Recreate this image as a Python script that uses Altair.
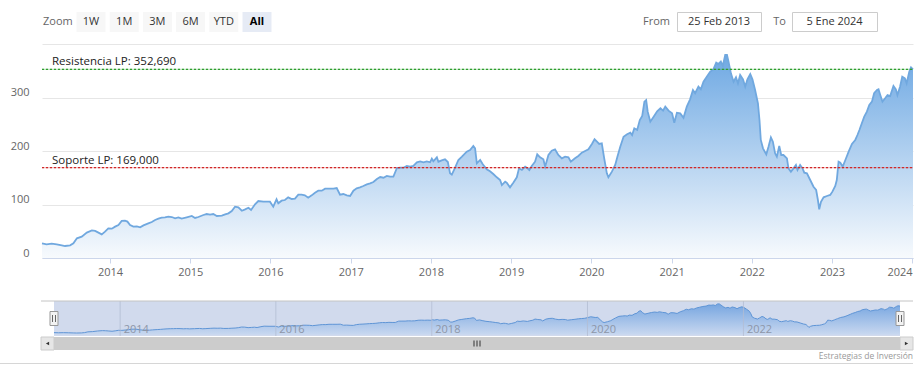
import altair as alt
import pandas as pd

# ---------------- data ----------------
dates = [
    "2013-02-25", "2013-03-18", "2013-04-10", "2013-05-03", "2013-05-26", "2013-06-10", "2013-07-03", "2013-07-18",
    "2013-08-03", "2013-08-25", "2013-09-17", "2013-10-10", "2013-10-25", "2013-11-09", "2013-11-24", "2013-12-09", "2013-12-24",
    "2014-01-09", "2014-01-24", "2014-02-08", "2014-02-23", "2014-03-10", "2014-03-21", "2014-04-02", "2014-04-17",
    "2014-05-03", "2014-05-18", "2014-06-02", "2014-06-24", "2014-07-10", "2014-07-25", "2014-08-09", "2014-08-24",
    "2014-09-08", "2014-09-23", "2014-10-09", "2014-10-24", "2014-11-08", "2014-11-23", "2014-12-16",
    "2015-01-08", "2015-01-23", "2015-02-07", "2015-03-02", "2015-03-17", "2015-04-01", "2015-04-16", "2015-05-02",
    "2015-05-25", "2015-06-09", "2015-06-24", "2015-07-09", "2015-07-24", "2015-08-08", "2015-08-24", "2015-09-08",
    "2015-09-23", "2015-10-05", "2015-10-23", "2015-11-07", "2015-11-30", "2015-12-30",
    "2016-01-14", "2016-01-29", "2016-02-06", "2016-02-21", "2016-03-07", "2016-03-22", "2016-04-07", "2016-04-22",
    "2016-05-07", "2016-05-22", "2016-06-06", "2016-06-21", "2016-07-07", "2016-07-22", "2016-08-06", "2016-08-22",
    "2016-09-06", "2016-09-21", "2016-10-14", "2016-10-29", "2016-11-13", "2016-11-28", "2016-12-14", "2016-12-29",
    "2017-01-13", "2017-01-28", "2017-02-12", "2017-02-27", "2017-03-15", "2017-03-30", "2017-04-14", "2017-04-30",
    "2017-05-15", "2017-05-30", "2017-06-14", "2017-06-29", "2017-07-14", "2017-07-30", "2017-08-14", "2017-08-29",
    "2017-09-13", "2017-09-28", "2017-10-13", "2017-10-29", "2017-11-13", "2017-11-28", "2017-12-13", "2017-12-28",
    "2018-01-05", "2018-01-12", "2018-01-28", "2018-02-04", "2018-02-19", "2018-03-06", "2018-03-19", "2018-03-29",
    "2018-04-06", "2018-04-21", "2018-05-06", "2018-05-22", "2018-06-13", "2018-06-28", "2018-07-13", "2018-07-21",
    "2018-07-29", "2018-08-13", "2018-08-25", "2018-09-12", "2018-09-27", "2018-10-12", "2018-10-28", "2018-11-12",
    "2018-11-20", "2018-12-05", "2018-12-12", "2018-12-27",
    "2019-01-11", "2019-01-27", "2019-02-06", "2019-02-19", "2019-03-06", "2019-03-13", "2019-03-25", "2019-04-05",
    "2019-04-20", "2019-04-30", "2019-05-13", "2019-05-28", "2019-06-05", "2019-06-20", "2019-07-05", "2019-07-20",
    "2019-08-04", "2019-08-20", "2019-09-04", "2019-09-19", "2019-09-30", "2019-10-19", "2019-11-03", "2019-11-19",
    "2019-12-04", "2019-12-19",
    "2020-01-04", "2020-01-16", "2020-01-27", "2020-02-06", "2020-02-18", "2020-02-29", "2020-03-12", "2020-03-19",
    "2020-04-04", "2020-04-19", "2020-04-29", "2020-05-12", "2020-05-27", "2020-06-12", "2020-06-27", "2020-07-05",
    "2020-07-15", "2020-07-28", "2020-08-09", "2020-08-20", "2020-08-30", "2020-09-07", "2020-09-14", "2020-09-26",
    "2020-10-11", "2020-10-27", "2020-11-11", "2020-11-23", "2020-12-03", "2020-12-18",
    "2021-01-03", "2021-01-13", "2021-01-25", "2021-02-09", "2021-02-24", "2021-03-11", "2021-03-26", "2021-04-08",
    "2021-04-18", "2021-05-03", "2021-05-14", "2021-05-26", "2021-06-10", "2021-06-25", "2021-07-10", "2021-07-23",
    "2021-08-02", "2021-08-13", "2021-08-22", "2021-09-02", "2021-09-10", "2021-09-17", "2021-09-28", "2021-10-10",
    "2021-10-21", "2021-10-30", "2021-11-09", "2021-11-22", "2021-12-02", "2021-12-12", "2021-12-25",
    "2022-01-04", "2022-01-16", "2022-01-29", "2022-02-05", "2022-02-11", "2022-02-21", "2022-03-08", "2022-03-18",
    "2022-03-29", "2022-04-07", "2022-04-17", "2022-04-25", "2022-05-06", "2022-05-15", "2022-05-25", "2022-06-10",
    "2022-06-17", "2022-06-28", "2022-07-10", "2022-07-21", "2022-07-28", "2022-08-09", "2022-08-20", "2022-08-28",
    "2022-09-09", "2022-09-24", "2022-10-09", "2022-10-21", "2022-10-29", "2022-11-04", "2022-11-12", "2022-11-24",
    "2022-12-09", "2022-12-24",
    "2023-01-03", "2023-01-16", "2023-01-23", "2023-01-31", "2023-02-08", "2023-02-19", "2023-03-03", "2023-03-18",
    "2023-04-02", "2023-04-17", "2023-04-27", "2023-05-06", "2023-05-17", "2023-05-28", "2023-06-09", "2023-06-20",
    "2023-07-02", "2023-07-12", "2023-07-25", "2023-08-01", "2023-08-09", "2023-08-19", "2023-08-31", "2023-09-11",
    "2023-09-23", "2023-10-08", "2023-10-19", "2023-10-26", "2023-11-07", "2023-11-17", "2023-11-29", "2023-12-07",
    "2023-12-19", "2023-12-27", "2024-01-05",
]
prices = [
    27.4, 25.6, 26.8, 25.6, 23.7, 22.4, 23.7, 27.4, 36.8, 39.9, 47.4, 51.7, 50.5, 47.4, 44.2, 49.2, 55.4,
    54.8, 58.6, 61.7, 69.2, 69.8, 68.0, 61.7, 58.6, 59.2, 57.3, 61.0, 64.8, 67.3, 71.0, 73.5, 75.4, 76.0, 77.3,
    76.6, 74.2, 76.0, 73.5, 76.0,
    78.5, 74.8, 76.6, 80.4, 82.2, 81.0, 82.2, 78.5, 79.1, 81.6, 83.5, 87.9, 95.9, 94.7, 88.4, 91.0, 94.0, 89.7,
    100.3, 106.5, 105.2, 105.2,
    95.9, 109.7, 102.2, 107.1, 108.4, 113.4, 110.3, 110.9, 118.3, 118.3, 117.1, 112.7, 117.1, 122.1, 125.8, 125.8,
    129.6, 129.6, 129.6, 130.8, 118.3, 119.6, 117.1, 115.9,
    125.8, 130.2, 132.1, 134.6, 137.7, 139.6, 142.0, 147.7, 151.4, 150.1, 153.3, 152.0, 152.0, 168.2, 168.8, 168.8,
    172.0, 170.7, 172.0, 178.9, 180.7, 178.9, 180.7, 178.9,
    185.6, 180.7, 188.2, 180.0, 182.6, 184.4, 179.4, 158.3, 155.7, 168.8, 183.2, 189.3, 198.7, 201.9, 209.3, 205.0,
    177.0, 183.2, 175.1, 165.8, 162.0, 157.0, 150.8, 145.8, 136.4, 142.6, 140.8, 132.1,
    140.8, 150.8, 167.6, 164.5, 170.7, 168.8, 164.5, 172.0, 180.0, 193.8, 188.2, 184.4, 170.7, 192.5, 200.6, 203.1,
    192.5, 186.3, 189.4, 188.2, 180.0, 186.3, 190.7, 196.8, 200.0, 203.1,
    213.1, 221.9, 217.4, 213.1, 214.3, 186.3, 158.3, 150.8, 161.4, 173.8, 189.4, 208.0, 226.7, 231.2, 234.2, 229.9,
    242.4, 239.3, 257.9, 265.4, 292.2, 295.3, 273.5, 254.8, 264.1, 274.2, 279.8, 275.4, 282.9, 275.4,
    270.4, 252.9, 271.6, 270.4, 262.2, 282.9, 296.6, 314.0, 307.9, 320.2, 315.3, 329.5, 338.9, 348.0, 352.7, 365.1,
    362.6, 367.0, 358.9, 379.4, 379.4, 367.0, 345.2, 329.5, 337.7, 326.5, 342.0, 334.0, 320.2, 334.0, 343.9,
    334.0, 314.0, 289.2, 257.9, 220.6, 205.0, 193.8, 208.0, 225.5, 217.4, 195.7, 189.4, 209.3, 192.5, 192.5, 186.3,
    167.6, 161.4, 167.6, 173.8, 164.5, 173.8, 167.6, 159.5, 158.3, 145.8, 133.3, 127.1, 108.4, 91.0, 105.2, 113.4,
    115.9, 117.8,
    124.0, 134.6, 145.8, 180.0, 178.1, 170.7, 183.2, 198.7, 213.1, 220.6, 229.9, 239.3, 251.8, 264.1, 273.5, 286.0,
    292.2, 307.9, 314.0, 315.3, 304.7, 292.2, 298.5, 304.7, 302.8, 321.5, 315.3, 304.7, 320.2, 338.9, 335.9, 326.5,
    348.2, 356.4, 352.7,
]
assert len(dates) == len(prices)

level_values = [352.69, 169.0]
level_labels = ["Resistencia LP: 352,690", "Soporte LP: 169,000"]
y_ticks = [0, 100, 200, 300, 400]
x_years = list(range(2014, 2025))
nav_years = [2014, 2016, 2018, 2020, 2022]
zoom_buttons = ["1W", "1M", "3M", "6M", "YTD", "All"]
selected_button = "All"
zoom_label = "Zoom"
range_labels = ["From", "To"]
range_values = ["25 Feb 2013", "5 Ene 2024"]
credit = "Estrategias de Inversión"

# ---------------- layout / style ----------------
W, H = 871, 214
FONT = "Open Sans"
LEVEL_COLORS = ["#2f9e2f", "#d02828"]
df = pd.DataFrame({"date": pd.to_datetime(dates), "price": prices})
x_dom = [alt.DateTime(year=2013, month=2, date=25), alt.DateTime(year=2024, month=1, date=5)]
main_x = alt.Scale(domain=x_dom)
main_y = alt.Scale(domain=[0, 400], nice=False)
nav_x = alt.Scale(domain=x_dom, range=[12, 858])
nav_y = alt.Scale(domain=[-14, 415], range=[292, 257], nice=False, zero=False)

main_grad = alt.Gradient(
    gradient="linear",
    stops=[alt.GradientStop(color="#6fa9e3", offset=0), alt.GradientStop(color="#f7fafd", offset=1)],
    x1=0, x2=0, y1=0, y2=1,
)
nav_grad = alt.Gradient(
    gradient="linear",
    stops=[alt.GradientStop(color="#77a6e0", offset=0), alt.GradientStop(color="#c9d8f0", offset=1)],
    x1=0, x2=0, y1=0, y2=1,
)

base = alt.Chart(df)

area = base.mark_area(color=main_grad).encode(
    x=alt.X("date:T", scale=main_x, title=None, axis=alt.Axis(
        values=[alt.DateTime(year=y, month=1, date=1) for y in x_years], format="%Y",
        grid=False, domainColor="#ccd6eb", tickColor="#ccd6eb", tickSize=5, labelPadding=3,
        labelColor="#666666", labelFontSize=11, labelFont=FONT, labelOverlap=False)),
    y=alt.Y("price:Q", scale=main_y, title=None, axis=alt.Axis(
        values=y_ticks, grid=True, gridColor="#e6e6e6", domain=False, ticks=False, tickSize=0,
        labelPadding=13, labelOffset=-5, labelExpr="datum.value >= 400 ? '' : datum.label",
        labelColor="#666666", labelFontSize=11, labelFont=FONT)),
)
line = base.mark_line(color="#70a8df", strokeWidth=1.8).encode(
    x=alt.X("date:T", scale=main_x, title=None),
    y=alt.Y("price:Q", scale=main_y, title=None),
)
level_layers = []
for val, lab, col in zip(level_values, level_labels, LEVEL_COLORS):
    ldf = pd.DataFrame({"price": [val], "label": [lab]})
    level_layers.append(
        alt.Chart(ldf).mark_rule(strokeWidth=1.2, stroke=col, strokeOpacity=0.3).encode(
            x=alt.value(0), x2=alt.value(W),
            y=alt.Y("price:Q", scale=main_y, title=None))
    )
    level_layers.append(
        alt.Chart(ldf).mark_rule(strokeDash=[2, 2], strokeWidth=1.2, stroke=col, strokeOpacity=1).encode(
            x=alt.value(0), x2=alt.value(W),
            y=alt.Y("price:Q", scale=main_y, title=None))
    )
    level_layers.append(
        alt.Chart(ldf).mark_text(
            align="left", baseline="alphabetic", dy=-4, font=FONT, fontSize=11.5, color="#222222"
        ).encode(x=alt.value(10), y=alt.Y("price:Q", scale=main_y, title=None), text="label:N")
    )

main = alt.layer(area, line, *level_layers)

# ---- navigator ----
one = pd.DataFrame({"k": [0]})


def rect(x0, x1, y0, y1, **kw):
    return alt.Chart(one).mark_rect(**kw).encode(
        x=alt.value(x0), x2=alt.value(x1), y=alt.value(y0), y2=alt.value(y1))


def hline(x0, x1, y, color):
    return alt.Chart(one).mark_rule(color=color, strokeWidth=1).encode(
        x=alt.value(x0), x2=alt.value(x1), y=alt.value(y))


def vline(x, y0, y1, color):
    return alt.Chart(one).mark_rule(color=color, strokeWidth=1).encode(
        x=alt.value(x), y=alt.value(y0), y2=alt.value(y1))


def label(text, x, y, align="left", size=11, color="#666666", weight="normal"):
    return alt.Chart(pd.DataFrame({"t": [text]})).mark_text(
        align=align, baseline="middle", font=FONT, fontSize=size, color=color, fontWeight=weight
    ).encode(x=alt.value(x), y=alt.value(y), text="t:N")


mask = rect(12, 858, 257, 292, fill="#d1daed")
nav_area = base.mark_area(color=nav_grad).encode(
    x=alt.X("date:T", scale=nav_x, axis=None),
    y=alt.Y("price:Q", scale=nav_y, axis=None),
    y2=alt.value(292),
)
nav_line = base.mark_line(color="#5f95d6", strokeWidth=1).encode(
    x=alt.X("date:T", scale=nav_x, axis=None),
    y=alt.Y("price:Q", scale=nav_y, axis=None),
)
nav_df = pd.DataFrame({"year": pd.to_datetime([f"{y}-01-01" for y in nav_years])})
nav_grid = alt.Chart(nav_df).mark_rule(color="#b3bdd2", strokeWidth=1, opacity=0.8).encode(
    x=alt.X("year:T", scale=nav_x, axis=None), y=alt.value(257), y2=alt.value(292))
nav_text = alt.Chart(nav_df).mark_text(
    align="left", baseline="middle", dx=3.5, font=FONT, fontSize=11, color="#8d96a8"
).encode(x=alt.X("year:T", scale=nav_x, axis=None), y=alt.value(285.5), text=alt.Text("year:T", format="%Y"))
nav = alt.layer(nav_area, nav_line, nav_grid, nav_text)

nav_outline = hline(-1, 871, 257, "#c4c4c4")
handles = []
for c in (12, 858):
    handles += [
        rect(c - 4, c + 4, 267.5, 281.5, fill="#f2f2f2", stroke="#999999", strokeWidth=1),
        vline(c - 1.5, 271, 278, "#666666"),
        vline(c + 1.5, 271, 278, "#666666"),
    ]

scroll = [
    rect(12, 858, 293, 306, fill="#cccccc"),
    rect(-1, 12, 293, 306, fill="#e6e6e6", stroke="#cccccc", strokeWidth=1),
    rect(858, 871, 293, 306, fill="#e6e6e6", stroke="#cccccc", strokeWidth=1),
    alt.Chart(one).mark_point(shape="triangle-left", filled=True, color="#333333", size=14, opacity=1).encode(
        x=alt.value(5.5), y=alt.value(299.5)),
    alt.Chart(one).mark_point(shape="triangle-right", filled=True, color="#333333", size=14, opacity=1).encode(
        x=alt.value(864.5), y=alt.value(299.5)),
    vline(432, 296.5, 302.5, "#333333"),
    vline(435, 296.5, 302.5, "#333333"),
    vline(438, 296.5, 302.5, "#333333"),
]

# ---- range selector / inputs ----
top = [label(zoom_label, 1, -22.5)]
for i, b in enumerate(zoom_buttons):
    x0 = 34.5 + i * 33.2
    sel = b == selected_button
    top.append(rect(x0, x0 + 29, -32, -12, fill="#e6ebf5" if sel else "#f7f7f7"))
    top.append(label(b, x0 + 14.5, -22, align="center", color="#000000" if sel else "#333333",
                     weight="bold" if sel else "normal"))
top += [
    label(range_labels[0], 628, -22.5, align="right"),
    rect(635.5, 719.5, -31.5, -12.5, fill="#ffffff", stroke="#cccccc", strokeWidth=1),
    label(range_values[0], 677, -22, align="center", color="#333333"),
    label(range_labels[1], 744, -22.5, align="right"),
    rect(750.5, 835.5, -31.5, -12.5, fill="#ffffff", stroke="#cccccc", strokeWidth=1),
    label(range_values[1], 792.5, -22, align="center", color="#333333"),
]

bottom = [
    hline(-42, 871, 319.5, "#d6d6d6"),
    label(credit, 871, 312, align="right", size=8.5, color="#999999"),
]

chart = alt.layer(
    main, mask, nav, nav_outline, *handles, *scroll, *top, *bottom
).resolve_scale(x="independent", y="independent").properties(
    width=W, height=H,
    padding={"left": 42, "top": 44, "right": 11, "bottom": 120},
    autosize=alt.AutoSizeParams(type="none"),
    background="white",
).configure_view(stroke=None)

chart.save("out.html", embed_options={"renderer": "svg", "actions": False})
